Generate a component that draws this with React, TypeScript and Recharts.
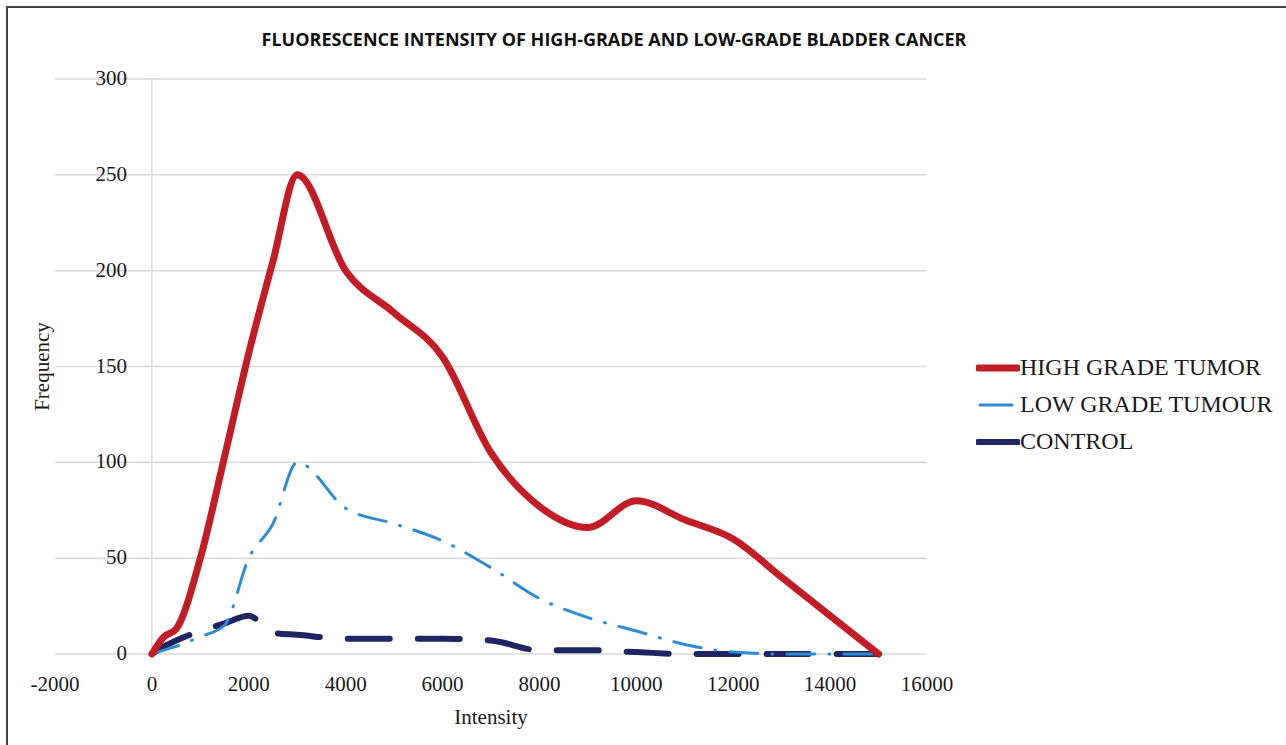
import { LineChart, Line, XAxis, YAxis, CartesianGrid, ReferenceLine, Legend } from "recharts";

const intensity = [0, 250, 500, 1000, 1500, 2000, 2500, 3000, 4000, 5000, 6000, 7000, 8000, 9000, 10000, 11000, 12000, 13000, 14000, 15000];
const highGrade = [0, 9, 13, 50, 103, 157, 205, 250, 200, 178, 155, 105, 77, 66, 80, 70, 60, 40, 20, 0];
const lowGrade = [0, 2, 4, 9, 15, 50, 68, 100, 76, 68, 59, 45, 29, 19, 12, 5, 1, 0, 0, 0];
const control = [0, 4, 7, 12, 16, 20, 11, 10, 8, 8, 8, 7, 2, 2, 1, 0, 0, 0, 0, 0];
const xTicks = [-2000, 0, 2000, 4000, 6000, 8000, 10000, 12000, 14000, 16000];
const yTicks = [0, 50, 100, 150, 200, 250, 300];

const data = intensity.map((x, i) => ({ x, high: highGrade[i], low: lowGrade[i], control: control[i] }));

const SERIF = "'Liberation Serif', 'DejaVu Serif', serif";

const legendItems = [
  { name: "HIGH GRADE TUMOR", color: "#c21d25", width: 7, x1: 2, x2: 42 },
  { name: "LOW GRADE TUMOUR", color: "#2d8bd5", width: 3, x1: 4, x2: 36 },
  { name: "CONTROL", color: "#1f2462", width: 6, x1: 2, x2: 42 },
];

function LegendBox() {
  return (
    <div style={{ fontFamily: SERIF, fontSize: 24, color: "#1a1a1a", whiteSpace: "nowrap" }}>
      {legendItems.map((it) => (
        <div key={it.name} style={{ display: "flex", alignItems: "center", height: 37 }}>
          <svg width={44} height={12}>
            <line x1={it.x1} x2={it.x2} y1={6} y2={6} stroke={it.color} strokeWidth={it.width} strokeLinecap="round" />
          </svg>
          <span>{it.name}</span>
        </div>
      ))}
    </div>
  );
}

function YTick(props: any) {
  const { x, y, payload } = props;
  return (
    <text x={x + 80} y={y} dy={6} textAnchor="end" fontFamily={SERIF} fontSize={21} fill="#1a1a1a">
      {payload.value}
    </text>
  );
}

export default function App() {
  return (
    <div style={{ position: "absolute", left: 6, top: 6, width: 1290, height: 745, borderTop: "2px solid #444", borderLeft: "2px solid #444", background: "#fff" }}>
      <div
        style={{
          position: "absolute",
          left: 0,
          width: 1212,
          top: 19,
          textAlign: "center",
          fontFamily: "'Open Sans', sans-serif",
          fontWeight: 700,
          fontSize: 18,
          letterSpacing: 0,
          color: "#111",
        }}
      >
        FLUORESCENCE INTENSITY OF HIGH-GRADE AND LOW-GRADE BLADDER CANCER
      </div>
      <div style={{ position: "absolute", left: 0, top: 0 }}>
        <LineChart width={1278} height={737} data={data} margin={{ top: 71, right: 359, bottom: 0, left: 0 }}>
          <CartesianGrid horizontal vertical={false} stroke="#d9d9d9" strokeWidth={1.5} />
          <XAxis
            dataKey="x"
            type="number"
            domain={[-2000, 16000]}
            ticks={xTicks}
            axisLine={false}
            tickLine={false}
            height={91}
            interval={0}
            tick={{ fontFamily: SERIF, fontSize: 21, fill: "#1a1a1a", dy: 14 }}
            label={{ value: "Intensity", position: "insideBottom", offset: 21, fontFamily: SERIF, fontSize: 21, fill: "#1a1a1a" }}
          />
          <YAxis
            type="number"
            domain={[0, 300]}
            ticks={yTicks}
            axisLine={false}
            tickLine={false}
            width={47}
            tick={<YTick />}
            label={{ value: "Frequency", angle: -90, position: "center", dx: 10, fontFamily: SERIF, fontSize: 21, fill: "#1a1a1a" }}
          />
          <ReferenceLine x={0} stroke="#d9d9d9" strokeWidth={1.5} />
          <Legend
            layout="vertical"
            verticalAlign="middle"
            align="center"
            wrapperStyle={{ left: 968, top: 341, width: 320 }}
            content={() => <LegendBox />}
          />
          <Line dataKey="control" type="monotone" stroke="#1f2462" strokeWidth={6} strokeDasharray="42 28" strokeLinecap="round" dot={false} isAnimationActive={false} />
          <Line dataKey="low" type="monotone" stroke="#2d8bd5" strokeWidth={3} strokeDasharray="28 14 1 14" strokeLinecap="round" dot={false} isAnimationActive={false} />
          <Line dataKey="high" type="monotone" stroke="#c21d25" strokeWidth={7} strokeLinecap="round" dot={false} isAnimationActive={false} />
        </LineChart>
      </div>
    </div>
  );
}
